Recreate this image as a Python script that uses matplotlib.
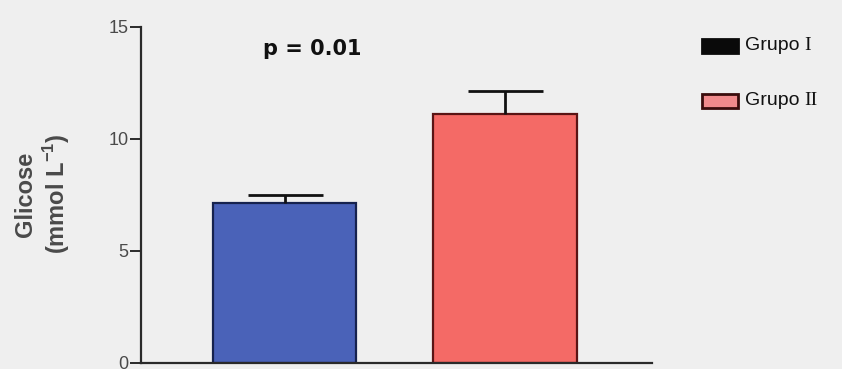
import matplotlib
matplotlib.use("Agg")
import matplotlib.pyplot as plt
from matplotlib.patches import Rectangle

# Data
groups = ["Grupo I", "Grupo II"]
means = [7.1, 11.1]
sem = [0.4, 1.0]
y_ticks = [0, 5, 10, 15]
p_label = "p = 0.01"

bar_colors = ["#4a62b8", "#f46a66"]
edge_colors = ["#16224e", "#5a1414"]
legend_fill = ["#0a0a0a", "#f08a8c"]
legend_edge = ["#0a0a0a", "#3a0c0c"]

plt.rcParams["mathtext.fontset"] = "custom"
plt.rcParams["mathtext.rm"] = "Liberation Sans"
plt.rcParams["mathtext.bf"] = "Liberation Sans:bold"

W, H = 842, 369
bg = "#efefef"
fig = plt.figure(figsize=(W / 100, H / 100), dpi=100, facecolor=bg)

def fx(px):
    return px / W

def fy(py):
    return 1 - py / H

ax = fig.add_axes([fx(141), fy(362.5), fx(652) - fx(141), fy(26.5) - fy(362.5)])
ax.set_facecolor(bg)

x = list(range(len(groups)))
ax.bar(x, means, width=0.65, color=bar_colors, edgecolor=edge_colors,
       linewidth=1.6, zorder=2)
# upper-only error bars
_, caps, _ = ax.errorbar(x, means, yerr=[[0] * len(sem), sem], fmt="none",
                         ecolor="#111111", elinewidth=2, capsize=27,
                         capthick=2, zorder=3)
caps[0].set_visible(False)

ax.set_xlim(-0.651, 1.667)
ax.set_ylim(0, 15)
ax.set_yticks(y_ticks)
ax.set_xticks([])
for side in ("top", "right"):
    ax.spines[side].set_visible(False)
for side in ("left", "bottom"):
    ax.spines[side].set_color("#2a2a2a")
    ax.spines[side].set_linewidth(1.6)
ax.tick_params(axis="y", length=8, width=1.4, color="#2a2a2a", pad=1,
               labelsize=13, labelcolor="#4a4a4a")
for lbl in ax.get_yticklabels():
    lbl.set_family("Liberation Sans")

# Axis title
fig.text(fx(43), fy(194), "Glicose\n(mmol L$^{\\mathbf{-1}}$)", rotation=90,
         ha="center", va="center", fontsize=17, fontweight="bold",
         color="#4a4a4a", family="Liberation Sans", linespacing=1.2)

# Significance label
fig.text(fx(263), fy(48.7), p_label, ha="left", va="center", fontsize=15,
         fontweight="bold", color="#111111", family="DejaVu Sans")

# Legend: word in sans, roman numeral in serif
legend_y = [45.5, 100.5]
for name, fc, ec, ly in zip(groups, legend_fill, legend_edge, legend_y):
    fig.patches.append(Rectangle((fx(702), fy(ly + 7)), fx(738) - fx(702), 14 / H,
                                 transform=fig.transFigure, facecolor=fc,
                                 edgecolor=ec, linewidth=2))
    word, numeral = name.split(" ")
    fig.text(fx(745), fy(ly), word, ha="left", va="center", fontsize=14,
             color="#111111", family="Liberation Sans")
    fig.text(fx(804), fy(ly), numeral, ha="left", va="center", fontsize=14,
             color="#111111", family="Liberation Serif")

fig.savefig("out.png", dpi=100, facecolor=bg)
